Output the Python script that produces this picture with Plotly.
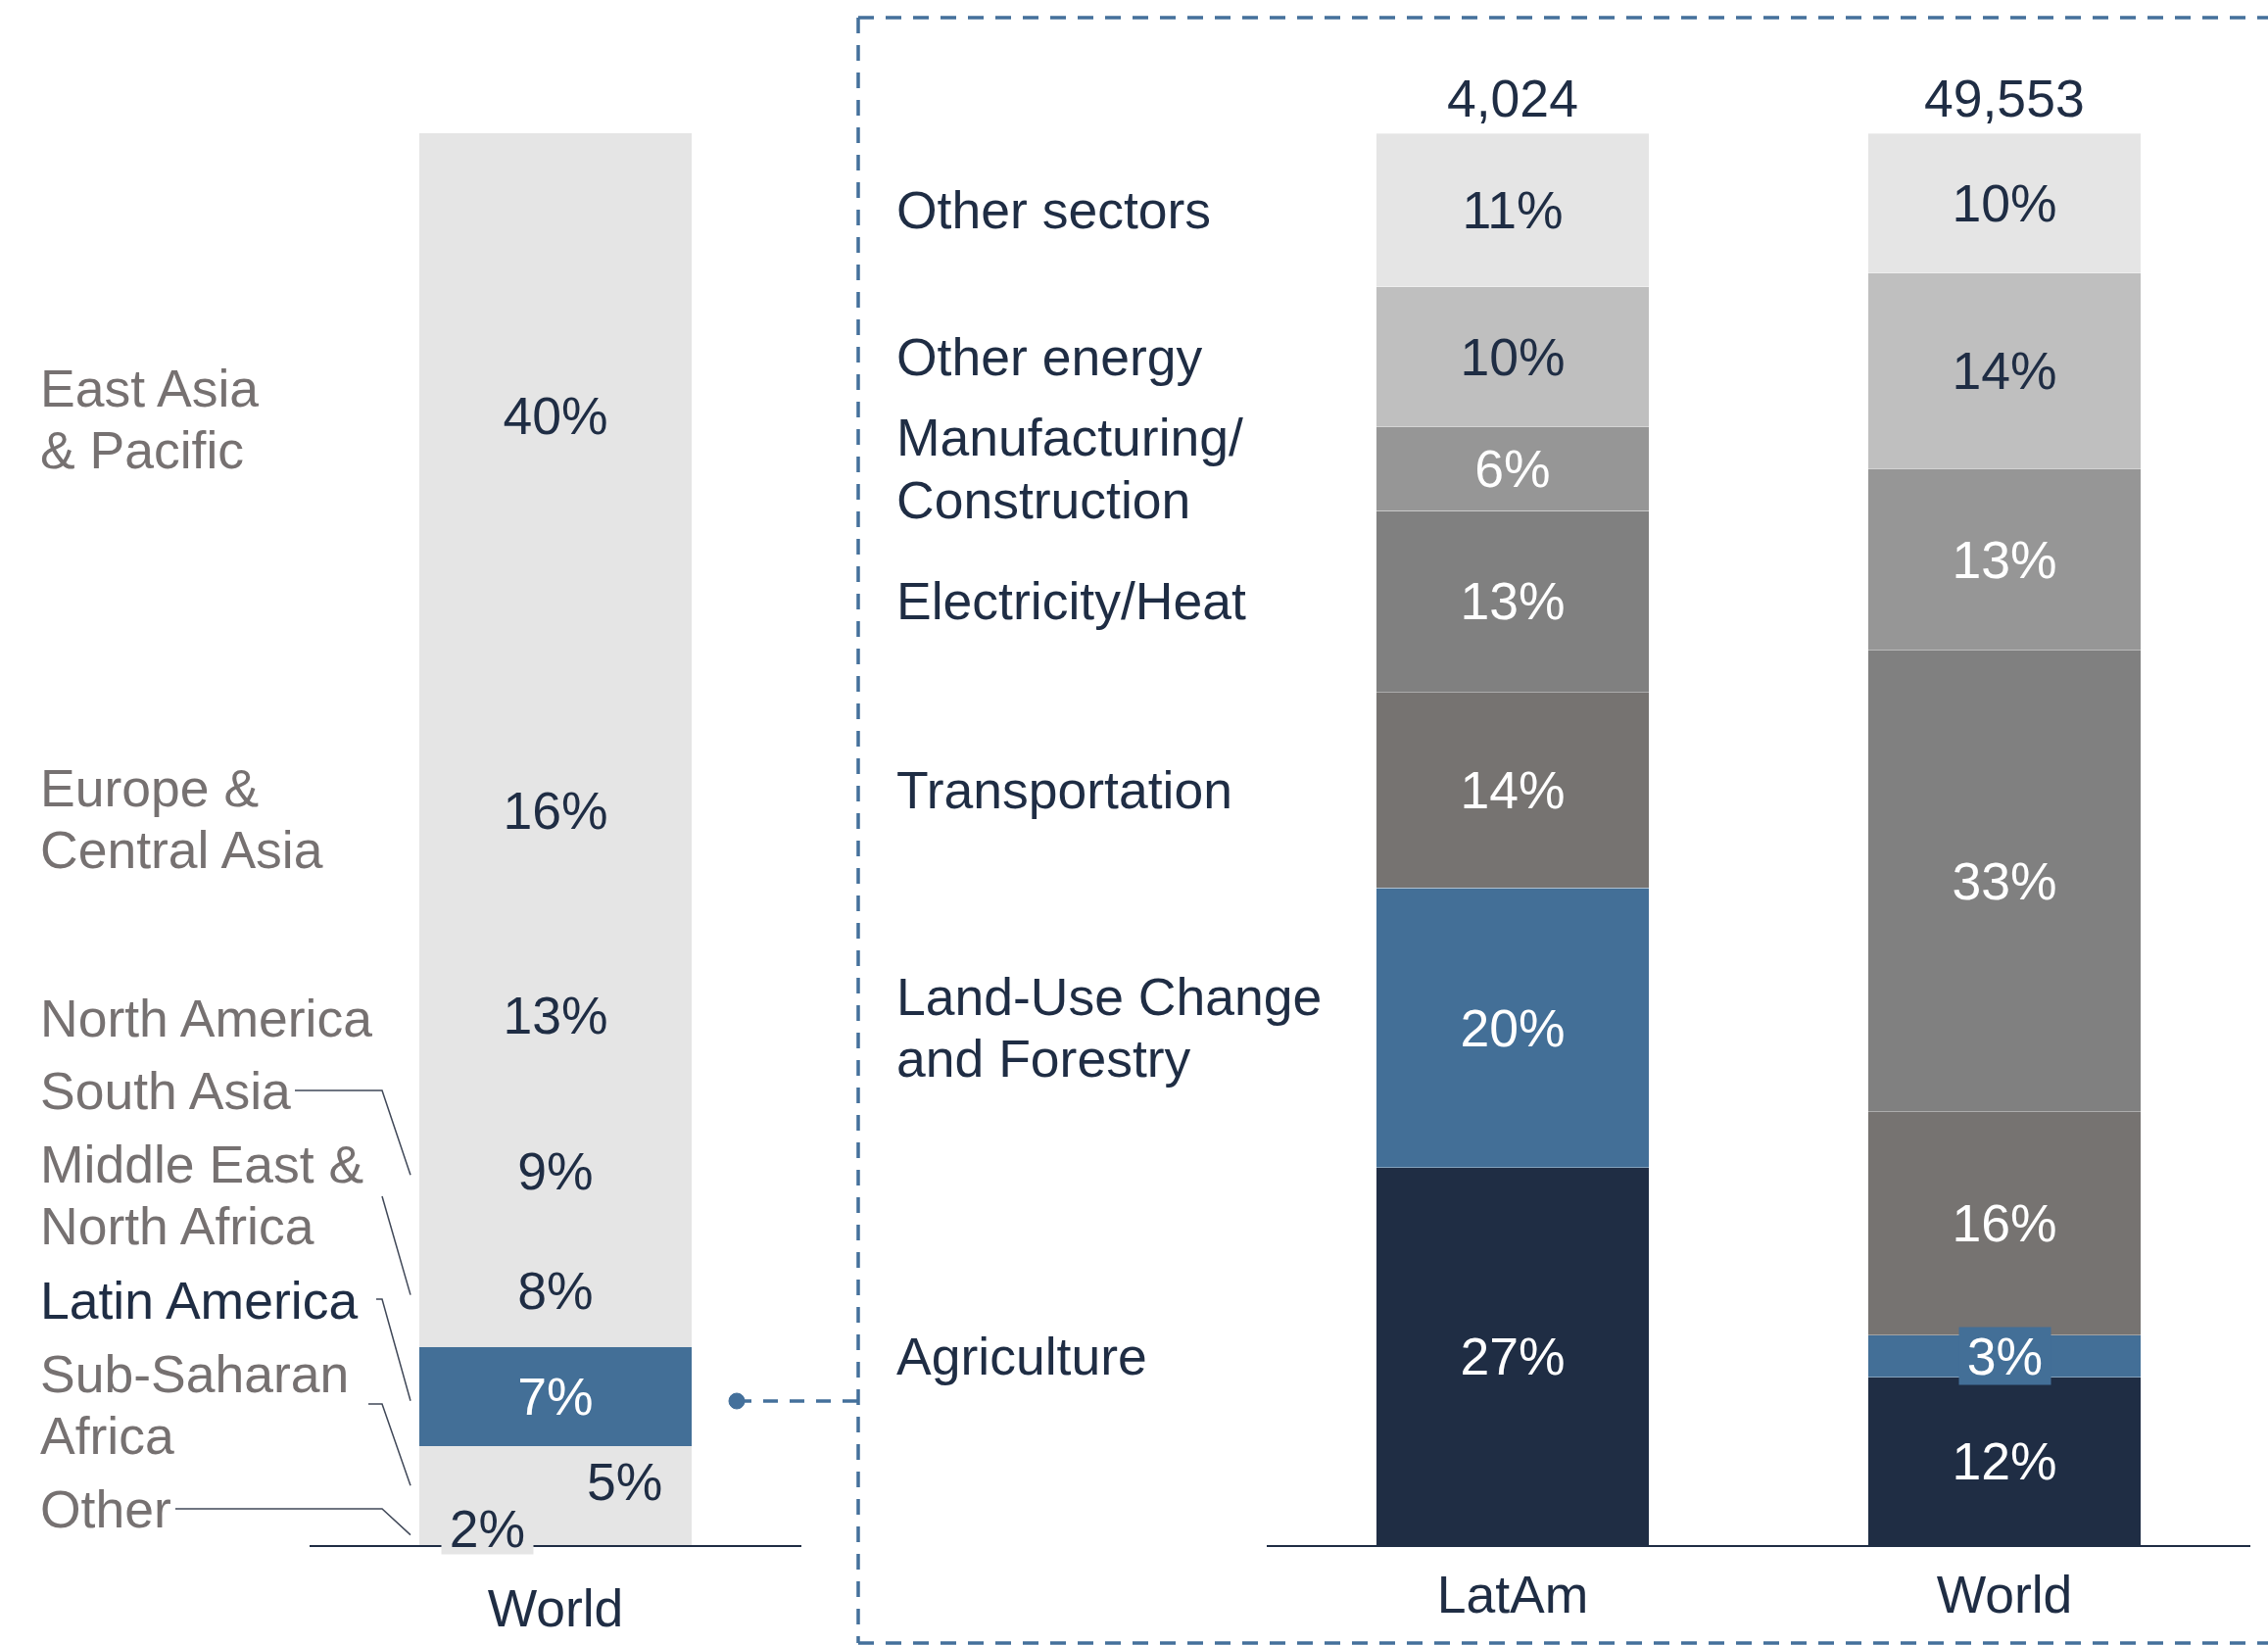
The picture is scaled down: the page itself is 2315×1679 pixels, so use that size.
import plotly.graph_objects as go

# ---- data -------------------------------------------------------------
# Regional shares of world emissions (%), stacked bottom to top
regions = ["Other", "Sub-Saharan<br>Africa", "Latin America", "Middle East &<br>North Africa",
           "South Asia", "North America", "Europe &<br>Central Asia", "East Asia<br>& Pacific"]
region_share = [2, 5, 7, 8, 9, 13, 16, 40]

# Sector shares (%), stacked bottom to top
sectors = ["Agriculture", "Land-Use Change<br>and Forestry", "Transportation", "Electricity/Heat",
           "Manufacturing/<br>Construction", "Other energy", "Other sectors"]
latam_share = [27, 20, 14, 13, 6, 10, 11]
world_share = [12, 3, 16, 33, 13, 14, 10]
columns = ["LatAm", "World"]
totals = ["4,024", "49,553"]

# ---- styling ----------------------------------------------------------
W, H = 2315, 1679
FONT = "Liberation Sans, Arial, sans-serif"
FS = 53.5
LINE_GAP = 63.5  # px between lines of two-line labels
NAVY = "#1F2D44"
BLUE = "#436F97"
LIGHT = "#E5E5E5"
GREY_TXT = "#767171"
BOX = "#44709B"
sector_colors = ["#1F2D44", "#436F97", "#767371", "#808080", "#969696", "#BFBFBF", "#E5E5E5"]
sector_text = ["white", "white", "white", "white", "white", NAVY, NAVY]
SEG_EDGE = dict(color="rgba(255,255,255,0.35)", width=1)

BAR_TOP, BAR_BOT = 136, 1577  # pixel rows of the plotting band


def px(x):
    return x / W


def py(y):
    return 1 - y / H


def left_pix(v):
    """pixel row of a value on the left (0-100) axis"""
    return BAR_BOT - v / 100 * (BAR_BOT - BAR_TOP)


def text_lines(label, **kw):
    """one annotation per line so the line spacing can be set exactly"""
    lines = label.split("<br>")
    n = len(lines)
    return [dict(text=ln, yshift=((n - 1) / 2 - i) * LINE_GAP, **kw) for i, ln in enumerate(lines)]


fig = go.Figure()

# left: world emissions by region (single stacked column)
for name, share in zip(regions, region_share):
    is_la = name == "Latin America"
    small = share <= 5
    fig.add_trace(go.Bar(
        x=["World"], y=[share], xaxis="x", yaxis="y",
        marker=dict(color=BLUE if is_la else LIGHT, line=dict(width=0)),
        text=[f"{share}%"], textposition="none" if small else "inside",
        insidetextanchor="middle", constraintext="none",
        textfont=dict(family=FONT, size=FS, color="white" if is_la else NAVY),
        hoverinfo="skip", showlegend=False,
    ))

# right: emissions by sector, LatAm vs World
for j, name in enumerate(sectors):
    vals = [latam_share[j], world_share[j]]
    pos = ["inside" if v >= 5 else "none" for v in vals]
    fig.add_trace(go.Bar(
        x=columns, y=vals, xaxis="x2", yaxis="y2",
        marker=dict(color=sector_colors[j], line=SEG_EDGE),
        text=[f"{v}%" for v in vals], textposition=pos,
        insidetextanchor="middle", constraintext="none",
        textfont=dict(family=FONT, size=FS, color=sector_text[j]),
        hoverinfo="skip", showlegend=False,
    ))

ann = []

# column totals above the sector bars
for c, t in zip(columns, totals):
    ann.append(dict(x=c, xref="x2", y=py(100), yref="paper", yanchor="middle",
                    text=t, showarrow=False, font=dict(family=FONT, size=FS, color=NAVY)))

# small-segment labels on the regional column
cum = 0
for name, share in zip(regions, region_share):
    if share < 5:
        ann.append(dict(x="World", xref="x", y=cum + share / 2, yref="y", xshift=-70, yshift=3,
                        text=f"{share}%", showarrow=False, bgcolor=LIGHT,
                        width=91, height=50, borderpad=1,
                        font=dict(family=FONT, size=FS, color=NAVY)))
    elif share == 5:
        ann.append(dict(x="World", xref="x", y=cum + share / 2, yref="y", xshift=70,
                        text=f"{share}%", showarrow=False,
                        font=dict(family=FONT, size=FS, color=NAVY)))
    cum += share

# thin world segment label
cum = 0
for j, v in enumerate(world_share):
    if v < 5:
        ann.append(dict(x="World", xref="x2", y=cum + v / 2, yref="y2",
                        text=f"{v}%", showarrow=False, bgcolor=sector_colors[j],
                        width=91, height=56, borderpad=1,
                        font=dict(family=FONT, size=FS, color="white")))
    cum += v

# sector names, aligned with the LatAm segments
cum = 0
for name, v in zip(sectors, latam_share):
    ann += text_lines(name, x=px(913), xref="paper", xanchor="left", y=cum + v / 2, yref="y2",
                      yanchor="middle", align="left", showarrow=False,
                      font=dict(family=FONT, size=FS, color=NAVY))
    cum += v

# region names
region_label_row = [1540, 1434, 1327, 1220, 1113, 1039, 836, 428]
for name, row in zip(regions, region_label_row):
    ann += text_lines(name, x=px(39), xref="paper", xanchor="left", y=py(row), yref="paper",
                      yanchor="middle", align="left", showarrow=False,
                      font=dict(family=FONT, size=FS,
                                color=NAVY if name == "Latin America" else GREY_TXT))

shapes = []

# leader lines from the lower region names to their segments
mids = []
cum = 0
for share in region_share:
    mids.append(cum + share / 2)
    cum += share
leaders = {  # region index -> label-side points (pixels)
    0: [(179, 1540), (390, 1540)],
    1: [(376, 1433), (390, 1433)],
    2: [(384, 1326), (390, 1326)],
    3: [(390, 1221)],
    4: [(301, 1113), (390, 1113)],
}
for idx, pts in leaders.items():
    pts = pts + [(419, left_pix(mids[idx]) + 4)]
    path = "M " + " L ".join(f"{px(x):.5f},{py(y):.5f}" for x, y in pts)
    shapes.append(dict(type="path", xref="paper", yref="paper", path=path,
                       line=dict(color="#404858", width=1.5)))

# dashed call-out frame around the sector breakdown
dash = "16px,12px"
bw = 3.5
shapes.append(dict(type="line", xref="paper", yref="paper",
                   x0=px(876), x1=1.0, y0=py(18), y1=py(18), line=dict(color=BOX, width=bw, dash=dash)))
shapes.append(dict(type="line", xref="paper", yref="paper",
                   x0=px(876), x1=px(876), y0=py(18), y1=py(1677), line=dict(color=BOX, width=bw, dash=dash)))
shapes.append(dict(type="line", xref="paper", yref="paper",
                   x0=px(876), x1=1.0, y0=py(1677), y1=py(1677), line=dict(color=BOX, width=bw, dash=dash)))

# connector from Latin America to the frame
la_row = 1430
shapes.append(dict(type="line", xref="paper", yref="paper",
                   x0=px(752), x1=px(876), y0=py(la_row), y1=py(la_row),
                   line=dict(color=BOX, width=bw, dash="15px,12px")))
shapes.append(dict(type="circle", xref="paper", yref="paper",
                   x0=px(744), x1=px(760), y0=py(la_row - 8), y1=py(la_row + 8),
                   fillcolor=BOX, line=dict(color=BOX, width=1)))

ydom = [py(BAR_BOT), py(BAR_TOP)]
axis_common = dict(showgrid=False, zeroline=False, showline=True, linecolor=NAVY, linewidth=2,
                   ticks="", tickfont=dict(family=FONT, size=FS, color=NAVY), fixedrange=True)

fig.update_layout(
    width=W, height=H, margin=dict(l=0, r=0, t=0, b=0),
    paper_bgcolor="white", plot_bgcolor="white",
    barmode="stack", bargap=0.445, showlegend=False,
    font=dict(family=FONT, size=FS, color=NAVY),
    xaxis=dict(domain=[px(316), px(818)], anchor="y", range=[-0.5, 0.5],
               ticklabelstandoff=17, **axis_common),
    yaxis=dict(domain=ydom, anchor="x", range=[0, 100], visible=False),
    xaxis2=dict(domain=[px(1293), px(2297)], anchor="y2", range=[-0.5, 1.5],
                ticklabelstandoff=3, **axis_common),
    yaxis2=dict(domain=ydom, anchor="x2", range=[0, 101], visible=False),
    annotations=ann, shapes=shapes,
)

fig.write_html("out.html")
